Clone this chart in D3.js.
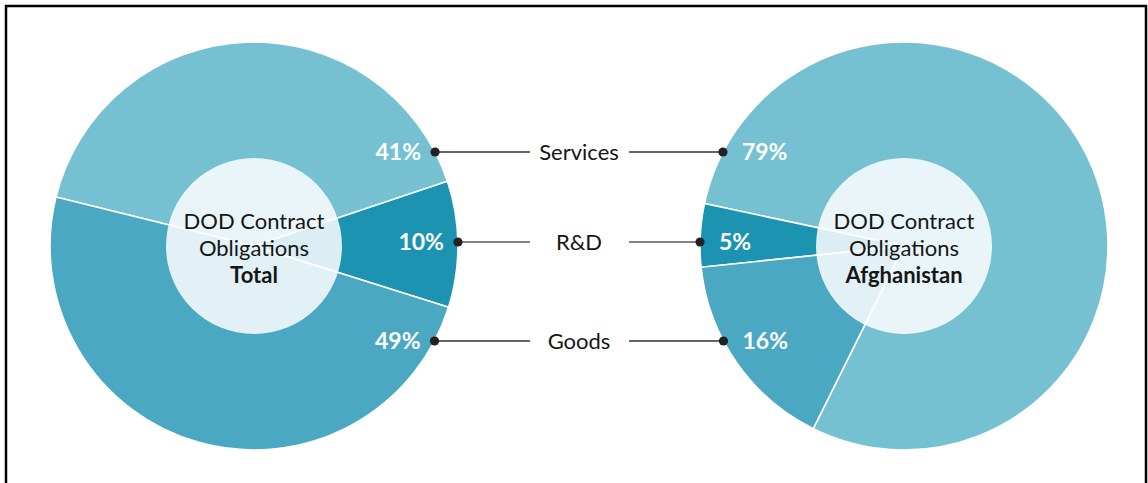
<!DOCTYPE html>
<html>
<head>
<meta charset="utf-8">
<script src="https://cdn.jsdelivr.net/npm/d3@7"></script>
<style>
  body { margin: 0; background: #fff; }
  svg { display: block; }
</style>
</head>
<body>
<div id="chart"></div>
<script>
// data //
var categories = ["Services", "R&D", "Goods"];
var totalShares = [41, 10, 49];
var afghanShares = [79, 5, 16];
var pieTitles = ["Total", "Afghanistan"];
var sliceColors = ["#75c1d1", "#1b93b1", "#4aa8c2"];

// layout
var W = 1148, H = 483;
var R = 204, innerR = 88;
var cy = 246;
var midX = 579;
var font = "Lato, 'Open Sans', sans-serif";

var svg = d3.select("#chart").append("svg")
  .attr("width", W)
  .attr("height", H);

// frame (top, left and right edge only)
svg.append("path")
  .attr("d", "M6,483 V6 H1146 V483")
  .attr("fill", "none")
  .attr("stroke", "#000")
  .attr("stroke-width", 2.5);

var color = d3.scaleOrdinal().domain(categories).range(sliceColors);
var arc = d3.arc().innerRadius(0).outerRadius(R);
var deg = Math.PI / 180;

// one donut. side = -1 for the left one, +1 for the right one
// rdCenter = where the R&D wedge points (degrees, clockwise from 12 o'clock)
var drawPie = (values, title, cx, side, rdCenter) => {
  var dir = -side; // left pie goes clockwise, right one is mirrored
  var before = (values[0] + values[1] / 2) / d3.sum(values);
  var a0 = rdCenter * deg - dir * before * 2 * Math.PI;

  var pie = d3.pie().sort(null).value(d => d)
    .startAngle(a0)
    .endAngle(a0 + dir * 2 * Math.PI);

  var g = svg.append("g").attr("transform", "translate(" + cx + "," + cy + ")");

  g.selectAll("path.slice")
    .data(pie(values))
    .join("path")
    .attr("class", "slice")
    .attr("d", arc)
    .attr("fill", (d, i) => color(categories[i]))
    .attr("stroke", "#fff")
    .attr("stroke-width", 1.6)
    .attr("stroke-linejoin", "round");

  // see-through middle
  g.append("circle")
    .attr("r", innerR)
    .attr("fill", "#fff")
    .attr("opacity", 0.84);

  var t = g.append("text")
    .attr("text-anchor", "middle")
    .attr("font-family", font)
    .attr("font-size", 22)
    .attr("fill", "#161616");
  t.append("tspan").attr("x", 0).attr("y", -17).text("DOD Contract");
  t.append("tspan").attr("x", 0).attr("y", 9.5).text("Obligations");
  t.append("tspan").attr("x", 0).attr("y", 36.5)
    .attr("font-weight", "bold").text(title);
};

drawPie(totalShares, pieTitles[0], 254, -1, 89.5);
drawPie(afghanShares, pieTitles[1], 904, 1, 273);

// connector rows
var rowOffset = d3.scalePoint().domain(categories).range([-94, 95]);
var rowY = c => cy + (c === "R&D" ? -4 : rowOffset(c));
var edgeX = (cx, side, y) => cx + side * Math.sqrt(R * R - (y - cy) * (y - cy));

var rows = svg.append("g");

categories.forEach((c, i) => {
  var y = rowY(c);
  var xl = edgeX(254, 1, y);
  var xr = edgeX(904, -1, y);
  var lineCol = c === "R&D" ? "#5a5a5a" : "#333";

  rows.append("line")
    .attr("x1", xl).attr("x2", midX - 49)
    .attr("y1", y).attr("y2", y)
    .attr("stroke", lineCol).attr("stroke-width", 1.6);
  rows.append("line")
    .attr("x1", midX + 50).attr("x2", xr)
    .attr("y1", y).attr("y2", y)
    .attr("stroke", lineCol).attr("stroke-width", 1.6);

  rows.append("circle").attr("cx", xl).attr("cy", y).attr("r", 4.6).attr("fill", "#222");
  rows.append("circle").attr("cx", xr).attr("cy", y).attr("r", 4.6).attr("fill", "#222");

  rows.append("text")
    .attr("x", midX).attr("y", y)
    .attr("dy", "0.36em")
    .attr("text-anchor", "middle")
    .attr("font-family", font)
    .attr("font-size", 22)
    .attr("fill", "#161616")
    .text(c);

  // percentages in white on the wedges
  rows.append("text")
    .attr("x", xl - 14).attr("y", y)
    .attr("dy", "0.36em")
    .attr("text-anchor", "end")
    .attr("font-family", font)
    .attr("font-weight", "bold")
    .attr("font-size", 23)
    .attr("fill", "#fff")
    .text(totalShares[i] + "%");
  rows.append("text")
    .attr("x", xr + 19).attr("y", y)
    .attr("dy", "0.36em")
    .attr("text-anchor", "start")
    .attr("font-family", font)
    .attr("font-weight", "bold")
    .attr("font-size", 23)
    .attr("fill", "#fff")
    .text(afghanShares[i] + "%");
});
</script>
</body>
</html>
